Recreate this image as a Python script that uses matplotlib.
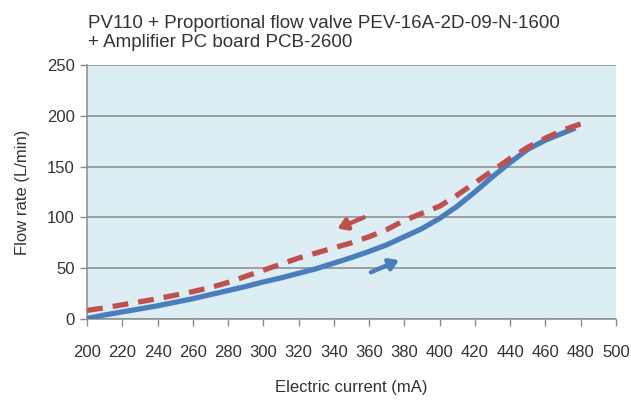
"""
Flow rate vs electric current for PV110 + PEV-16A proportional flow valve.
Output: out.png (631x403)
"""

import matplotlib
matplotlib.use("Agg")
import matplotlib.pyplot as plt

# -- Data ---------------------------------------------------------------------

# rising current (solid blue)
current_up = [200, 210, 220, 230, 240, 250, 260, 270, 280, 290, 300, 310, 320, 330,
              340, 350, 360, 370, 380, 390, 400, 410, 420, 430, 440, 450, 460, 470, 477]
flow_up = [0.5, 4, 7, 10, 13, 16.5, 20, 24, 28, 32, 36.5, 40.5, 45, 49.5,
           55, 60.5, 66.5, 73, 81, 89, 99, 111, 125, 140, 154, 167, 176, 183, 188]

# falling current (dashed red)
current_down = [200, 210, 220, 230, 240, 250, 260, 270, 280, 290, 300, 310, 320, 330,
                340, 350, 360, 370, 380, 390, 400, 410, 420, 430, 440, 450, 460, 470, 480]
flow_down = [8.5, 11, 14, 17, 20, 23.5, 27, 31, 36, 42, 48, 54, 60, 65,
             70, 75, 81, 88, 97, 104, 111, 122, 134, 146, 158, 169, 178, 186, 192]

x_ticks = list(range(200, 501, 20))
y_ticks = list(range(0, 251, 50))

# -- Style --------------------------------------------------------------------

BLUE = "#4A7EBB"
RED = "#C0504D"
BG = "#DCEEF3"
GRID = "#8C8C8C"
TEXT = "#333333"

plt.rcParams["font.family"] = ["Liberation Sans", "DejaVu Sans"]

fig = plt.figure(figsize=(6.31, 4.03), dpi=100)
ax = fig.add_axes([0.138, 0.2084, 0.838, 0.6303])
ax.set_facecolor(BG)

ax.plot(current_up, flow_up, color=BLUE, lw=3.8, solid_capstyle="butt",
        solid_joinstyle="round", zorder=3)
ax.plot(current_down, flow_down, color=RED, lw=3.8, dashes=(3.0, 1.9),
        dash_capstyle="butt", zorder=4)

# direction arrows
ax.annotate("", xy=(342, 89), xytext=(357, 100),
            arrowprops=dict(arrowstyle="-|>,head_length=0.55,head_width=0.35",
                            color=RED, lw=3.2, shrinkA=0, shrinkB=0), zorder=5)
ax.annotate("", xy=(377, 58), xytext=(361, 46),
            arrowprops=dict(arrowstyle="-|>,head_length=0.55,head_width=0.35",
                            color=BLUE, lw=3.2, shrinkA=0, shrinkB=0), zorder=5)

ax.set_xlim(200, 500)
ax.set_ylim(0, 250)
ax.set_xticks(x_ticks)
ax.set_yticks(y_ticks)
ax.tick_params(axis="both", labelsize=12, labelcolor=TEXT, color=GRID,
               length=5, width=1)
ax.tick_params(axis="x", pad=14)
ax.tick_params(axis="y", direction="out", pad=4)

ax.yaxis.grid(True, color=GRID, lw=1.1)
ax.set_axisbelow(True)
for side in ("top", "right"):
    ax.spines[side].set_visible(False)
for side in ("left", "bottom"):
    ax.spines[side].set_color(GRID)
    ax.spines[side].set_linewidth(1.1)

ax.set_xlabel("Electric current (mA)", fontsize=12, color=TEXT, labelpad=14)
ax.set_ylabel("Flow rate (L/min)", fontsize=12, color=TEXT, labelpad=12)

fig.text(88 / 631, 1 - 28 / 403,
         "PV110 + Proportional flow valve PEV-16A-2D-09-N-1600",
         fontsize=13.5, color=TEXT, ha="left", va="baseline")
fig.text(88 / 631, 1 - 47 / 403,
         "+ Amplifier PC board PCB-2600",
         fontsize=13.5, color=TEXT, ha="left", va="baseline")

fig.savefig("out.png", dpi=100, facecolor="white")
